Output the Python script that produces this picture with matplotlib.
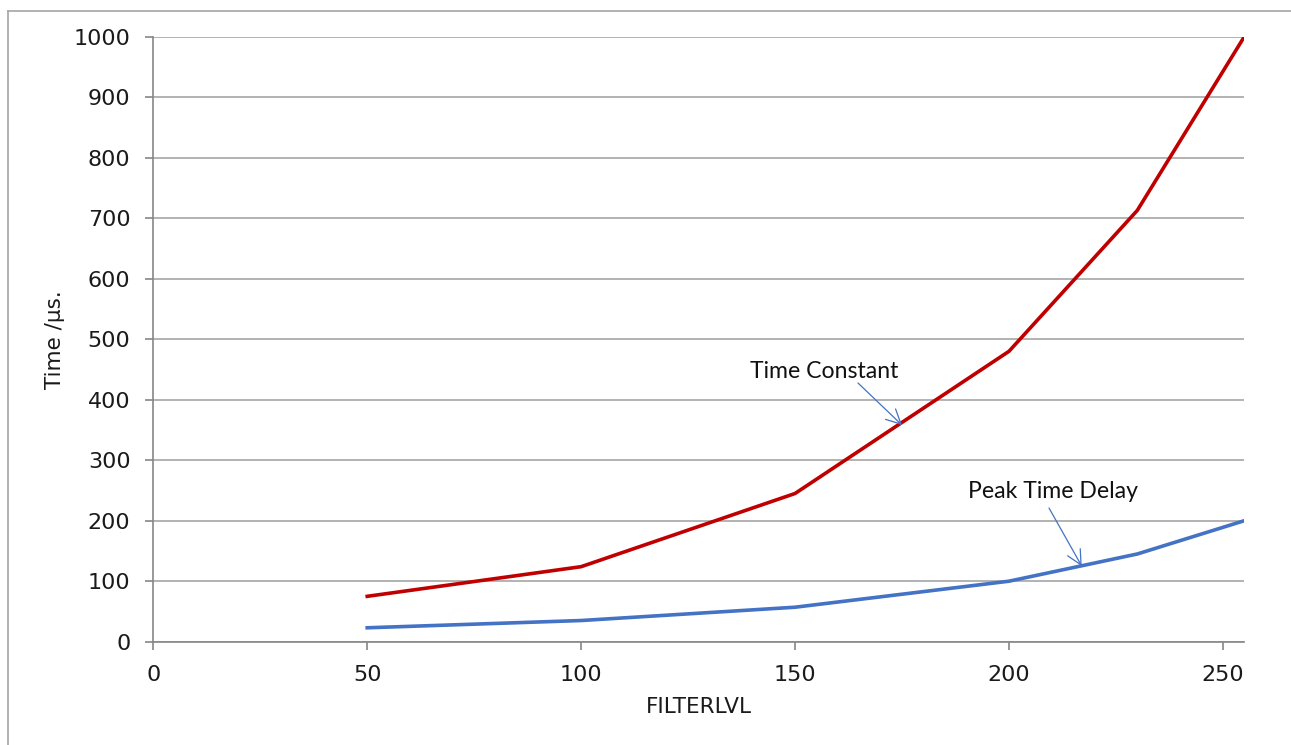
import matplotlib
matplotlib.use("Agg")
import matplotlib.pyplot as plt
from matplotlib.lines import Line2D

plt.rcParams["font.family"] = ["DejaVu Sans"]

# FILTERLVL setting vs. timing response
filterlvl = [50, 100, 150, 200, 230, 255]
time_constant = [75, 124, 245, 480, 713, 1000]
peak_time_delay = [23, 35, 57, 100, 145, 200]

x_ticks = [0, 50, 100, 150, 200, 250]
y_ticks = [0, 100, 200, 300, 400, 500, 600, 700, 800, 900, 1000]

W, H = 1291, 745
X0, X1, Y0, Y1 = 153.3, 1244.3, 641.7, 36.7
fig = plt.figure(figsize=(W / 100, H / 100), dpi=100)
ax = fig.add_axes([X0 / W, 1 - Y0 / H, (X1 - X0) / W, (Y0 - Y1) / H])

grid_c = "#a6a6a6"
spine_c = "#868686"

ax.plot(filterlvl, time_constant, color="#c00000", lw=2.6, solid_joinstyle="round", zorder=3)
ax.plot(filterlvl, peak_time_delay, color="#4472c4", lw=2.6, solid_joinstyle="round", zorder=3)

ax.set_xlim(0, 255)
ax.set_ylim(0, 1000)
ax.set_xticks(x_ticks)
ax.set_yticks(y_ticks)
ax.yaxis.grid(True, color=grid_c, lw=1.2)
ax.set_axisbelow(True)

for s in ("top", "right"):
    ax.spines[s].set_visible(False)
for s in ("left", "bottom"):
    ax.spines[s].set_color(spine_c)
    ax.spines[s].set_linewidth(1.2)

ax.tick_params(axis="both", direction="out", length=5.5, width=1.2, color=spine_c,
               labelsize=16, labelcolor="#1a1a1a", pad=11)

ax.set_xlabel("FILTERLVL", fontsize=15.5, color="#1a1a1a", labelpad=9)
ax.set_ylabel("Time /\u03bcs.", fontsize=15.5, color="#1a1a1a", labelpad=6)


def px_to_data(px, py):
    """Convert a pixel position on the canvas to data coordinates."""
    x = (px - X0) / (X1 - X0) * 255
    y = (Y0 - py) / (Y0 - Y1) * 1000
    return x, y


arrow_style = dict(arrowstyle="->", color="#4472c4", lw=0.9,
                   shrinkA=0, shrinkB=0, mutation_scale=26)

# callouts with leader arrows
ax.annotate("", xy=(175, 358), xytext=px_to_data(858, 383), arrowprops=arrow_style)
ax.text(*px_to_data(824, 372), "Time Constant", fontsize=16.6, family="Lato",
        ha="center", va="center", color="#111111")

ax.annotate("", xy=(217, 125), xytext=px_to_data(1049, 508), arrowprops=arrow_style)
ax.text(*px_to_data(1053, 491), "Peak Time Delay", fontsize=16.6, family="Lato",
        ha="center", va="center", color="#111111")

# chart border
fig.add_artist(Line2D([8 / W, 8 / W], [0, 1 - 11 / H], color="#a6a6a6", lw=1.2))
fig.add_artist(Line2D([8 / W, 1], [1 - 11 / H, 1 - 11 / H], color="#a6a6a6", lw=1.2))

fig.savefig("out.png", dpi=100)
